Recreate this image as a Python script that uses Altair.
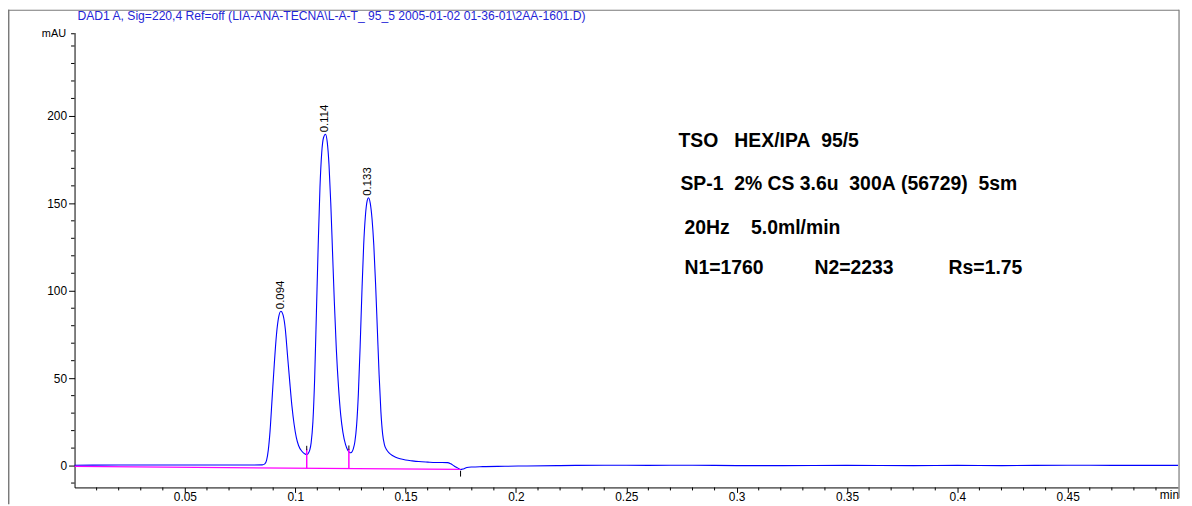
import altair as alt
import pandas as pd

# ---------------- data ----------------
trace_t = [0.000, 0.020, 0.040, 0.060, 0.080, 0.0850, 0.0862, 0.0870, 0.0878, 0.0886,
           0.0895, 0.0905, 0.0915, 0.0925, 0.0935, 0.0945, 0.0955, 0.0965, 0.0975, 0.0985,
           0.0995, 0.1005, 0.1015, 0.1030, 0.1044, 0.1052, 0.1060, 0.1066, 0.1072, 0.1080,
           0.1088, 0.1096, 0.1104, 0.1112, 0.1120, 0.1128, 0.1137, 0.1145, 0.1153, 0.1161,
           0.1169, 0.1177, 0.1186, 0.1196, 0.1206, 0.1216, 0.1228, 0.1238, 0.1247, 0.1252,
           0.1258, 0.1264, 0.1270, 0.1278, 0.1286, 0.1294, 0.1302, 0.1310, 0.1318, 0.1326,
           0.1332, 0.1340, 0.1348, 0.1356, 0.1364, 0.1372, 0.1380, 0.1388, 0.1396, 0.1404,
           0.1414, 0.1425, 0.1440, 0.1455, 0.1475, 0.1500, 0.1530, 0.1560, 0.1600, 0.1635,
           0.1665, 0.1690, 0.1705, 0.1720, 0.1735, 0.1749, 0.1762, 0.1778, 0.1800, 0.1850,
           0.1950, 0.2050, 0.2200, 0.2400, 0.2600, 0.2800, 0.3000, 0.3200, 0.3500, 0.3800,
           0.4000, 0.4200, 0.4500, 0.4700, 0.5000]
trace_v = [0.2, 0.3, 0.3, 0.3, 0.3, 0.4, 1.0, 3.0, 9.0, 20.0,
           38.0, 58.0, 75.0, 85.0, 88.3, 86.0, 78.0, 63.0, 48.0, 34.0,
           23.5, 16.0, 11.5, 8.2, 6.6, 6.3, 7.2, 9.0, 13.0, 25.0,
           50.0, 88.0, 126.0, 159.0, 179.0, 187.5, 189.5, 185.0, 172.0, 150.0,
           122.0, 94.0, 67.0, 45.0, 29.0, 19.0, 12.0, 8.8, 7.4, 7.3,
           8.0, 10.0, 13.5, 23.0, 41.0, 68.0, 99.0, 126.0, 143.0, 151.5,
           153.2, 150.0, 141.0, 126.0, 104.0, 78.0, 52.0, 31.0, 18.0, 12.0,
           9.0, 7.3, 5.8, 4.8, 3.9, 3.2, 2.7, 2.3, 2.0, 1.8,
           1.8, 1.7, 1.0, -0.2, -1.3, -2.3, -1.9, -1.1, -0.8, -0.6,
           -0.4, -0.2, 0.0, 0.2, 0.1, 0.2, 0.0, 0.0, 0.1, 0.0,
           0.1, 0.0, 0.2, 0.1, 0.1]

baseline_t = [0.0, 0.1749]
baseline_v = [-0.5, -2.2]

drop_t = [0.1052, 0.1243]
drop_top = [9.3, 9.5]
drop_bottom = [-1.52, -1.71]

event_t = [0.1052, 0.1243, 0.1749]
event_lo = [8.8, 9.0, -3.0]
event_hi = [11.3, 11.5, -6.3]

peak_rt = [0.0937, 0.1137, 0.1332]
peak_h = [88.3, 189.5, 153.2]
peak_lbl = ["0.094", "0.114", "0.133"]

x_major = [0.05, 0.1, 0.15, 0.2, 0.25, 0.3, 0.35, 0.4, 0.45]
x_minor = [round(i / 100, 2) for i in range(1, 50) if i % 5 != 0]
y_major = [0, 50, 100, 150, 200]
y_minor = [-10, 10, 20, 30, 40, 60, 70, 80, 90, 110, 120, 130, 140,
           160, 170, 180, 190, 210, 220, 230, 240, 247]

NB = "\u00a0"
header_text = ["DAD1 A, Sig=220,4 Ref=off (LIA-ANA-TECNA\\L-A-T_ 95_5 2005-01-02 01-36-01\\2AA-1601.D)"]
note_texts = ["TSO" + NB * 3 + "HEX/IPA" + NB * 2 + "95/5",
              "SP-1" + NB * 2 + "2%" + NB + "CS" + NB + "3.6u" + NB * 2 + "300A" + NB + "(56729)" + NB * 2 + "5sm",
              "20Hz" + NB * 4 + "5.0ml/min",
              "N1=1760",
              "N2=2233",
              "Rs=1.75"]
y_title = "mAU"
x_unit = ["min"]

# ---------------- layout ----------------
W, H = 1111, 458
FONT = "Liberation Sans"
x_scale = alt.Scale(domain=[0, 0.5], nice=False, zero=False)
y_scale = alt.Scale(domain=[-12.5, 247.7], nice=False, zero=False)

x_axis = alt.Axis(values=x_major, format="~g", tickSize=5, tickColor="black",
                  domainColor="black", labelColor="black", labelFontSize=12,
                  labelFont=FONT, labelPadding=-1, grid=False, title=None,
                  labelFlush=False)
y_axis = alt.Axis(values=y_major, tickSize=6, tickColor="black", domainColor="black",
                  labelColor="black", labelFontSize=12, labelFont=FONT, labelPadding=2,
                  grid=False, title=y_title, titleAngle=0, titleX=-9, titleY=1,
                  titleAlign="right", titleBaseline="middle", titleFont=FONT,
                  titleFontSize=11, titleFontWeight="normal", titleColor="black")


def xf(field):
    return alt.X(f"{field}:Q", scale=x_scale, axis=x_axis)


def yf(field):
    return alt.Y(f"{field}:Q", scale=y_scale, axis=y_axis)


trace = alt.Chart(pd.DataFrame({"t": trace_t, "v": trace_v})).mark_line(
    color="#0000ff", strokeWidth=1.1, interpolate="monotone"
).encode(x=xf("t"), y=yf("v"))

baseline = alt.Chart(pd.DataFrame({"t": baseline_t, "v": baseline_v})).mark_line(
    color="#ff00ff", strokeWidth=1.2
).encode(x=xf("t"), y=yf("v"))

drops = alt.Chart(pd.DataFrame({"t": drop_t, "v": drop_top, "bot": drop_bottom})).mark_rule(
    color="#ff00ff", strokeWidth=1.5
).encode(x=xf("t"), y=yf("v"), y2="bot:Q")

events = alt.Chart(pd.DataFrame({"t": event_t, "v": event_lo, "hi": event_hi})).mark_rule(
    color="black", strokeWidth=1
).encode(x=xf("t"), y=yf("v"), y2="hi:Q")

labels = alt.Chart(pd.DataFrame({"t": peak_rt, "v": peak_h, "lbl": peak_lbl})).mark_text(
    angle=270, align="left", baseline="middle", dx=2, fontSize=11.5, font=FONT, color="black"
).encode(x=xf("t"), y=yf("v"), text="lbl:N")

xminor = alt.Chart(pd.DataFrame({"t": x_minor})).mark_rule(color="black").encode(
    x=xf("t"), y=alt.value(H), y2=alt.value(H + 3))

yminor = alt.Chart(pd.DataFrame({"v": y_minor})).mark_rule(color="black").encode(
    y=yf("v"), x=alt.value(-3.5), x2=alt.value(0))

layers = [trace, baseline, drops, events, labels, xminor, yminor]

header = alt.Chart(pd.DataFrame({"s": header_text})).mark_text(
    align="left", baseline="middle", fontSize=12.2, font=FONT, color="#2424d6"
).encode(text="s:N", x=alt.value(3), y=alt.value(-17))
layers.append(header)

note_pos = [(608, 109), (610, 153), (614, 197), (614, 237), (745, 237), (880, 237)]
for txt, (px, py) in zip(note_texts, note_pos):
    layers.append(
        alt.Chart(pd.DataFrame({"s": [txt]})).mark_text(
            align="left", baseline="middle", fontSize=19.5, fontWeight="bold",
            font=FONT, color="black"
        ).encode(text="s:N", x=alt.value(px), y=alt.value(py))
    )

unit = alt.Chart(pd.DataFrame({"s": x_unit})).mark_text(
    align="right", baseline="top", fontSize=12, font=FONT, color="black"
).encode(text="s:N", x=alt.value(W + 1), y=alt.value(H + 3))
layers.append(unit)

frame_df = pd.DataFrame({"k": [0]})
frame_left = alt.Chart(frame_df).mark_rule(color="#7a7a7a", strokeWidth=1.5).encode(
    x=alt.value(-66.3), y=alt.value(-23), y2=alt.value(H + 17))
frame_top = alt.Chart(frame_df).mark_rule(color="#7a7a7a", strokeWidth=1.2).encode(
    x=alt.value(-67), x2=alt.value(W + 1), y=alt.value(-22.4))
frame_right = alt.Chart(frame_df).mark_rule(color="#7a7a7a", strokeWidth=1.2).encode(
    x=alt.value(W + 1), y=alt.value(-23), y2=alt.value(H + 11))
layers += [frame_left, frame_top, frame_right]

chart = alt.layer(*layers).properties(
    width=W, height=H,
    padding={"left": 67, "top": 23, "right": 6, "bottom": 17},
    autosize=alt.AutoSizeParams(type="none"),
    background="white",
).configure_view(stroke=None)

chart.save("out.html", embed_options={"renderer": "svg", "actions": False})
